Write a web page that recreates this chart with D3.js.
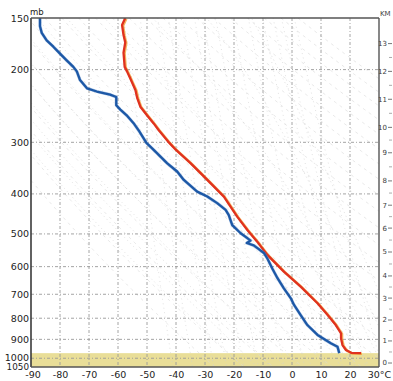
<!DOCTYPE html>
<html>
<head>
<meta charset="utf-8">
<script src="https://cdn.jsdelivr.net/npm/d3@7"></script>
<style>
  body { margin: 0; background: #fff; }
  svg { display: block; }
  text { font-family: "DejaVu Sans", sans-serif; }
</style>
</head>
<body>
<svg id="chart" width="393" height="381"></svg>
<script>
// Axis ticks
const pressureTicks = [150, 200, 300, 400, 500, 600, 700, 800, 900, 1000, 1050];
const tempTicks = [-90, -80, -70, -60, -50, -40, -30, -20, -10, 0, 10, 20, 30];
const kmTicks = [0, 1, 2, 3, 4, 5, 6, 7, 8, 9, 10, 11, 12, 13];
const kmPressure = [1027, 908, 808, 715, 632, 553, 484, 426, 372, 318, 276, 236, 202, 173];
const surfacePressure = 972;

// Temperature profile (mb, °C)
const tempP = [150, 156, 165, 172, 182, 197, 202, 210, 224, 234, 246, 258, 270, 280, 301, 313, 337, 370, 406, 454, 489, 522, 562, 617, 671, 736, 786, 831, 870, 895, 929, 955, 970, 972];
const tempC = [-57.5, -58.6, -58.1, -57.5, -58.1, -57.7, -56.9, -55.8, -54.0, -53.4, -52.3, -50.0, -47.7, -46.0, -42.3, -40.0, -35.0, -29.2, -23.5, -18.9, -15.4, -12.0, -8.5, -2.8, 3.0, 8.8, 12.3, 15.1, 16.9, 16.9, 17.4, 18.6, 20.4, 23.8];

// Dew point profile (mb, °C)
const dewP = [150, 157, 163, 170, 176, 183, 190, 197, 202, 212, 222, 226, 230, 233, 244, 250, 259, 271, 282, 301, 313, 337, 353, 370, 395, 406, 421, 437, 450, 476, 498, 512, 519, 526, 533, 542, 556, 575, 606, 640, 677, 716, 743, 786, 831, 878, 920, 938, 972];
const dewC = [-86.9, -86.9, -86.3, -84.6, -82.3, -80.0, -77.7, -75.4, -74.2, -73.1, -70.7, -67.3, -62.7, -60.6, -60.6, -59.2, -56.8, -54.4, -52.7, -50.2, -47.7, -43.1, -39.6, -37.3, -32.7, -29.2, -25.8, -22.9, -21.8, -20.6, -17.7, -15.4, -14.3, -15.6, -13.2, -11.8, -9.7, -8.4, -6.8, -5.0, -2.8, -0.4, 0.7, 3.0, 5.3, 8.8, 13.4, 15.7, 16.3];

// Background reference families
const dryThetaC = d3.range(-30, 201, 10);
const moistStartC = d3.range(-20, 41, 5);
const mixingRatios = [0.1, 0.2, 0.4, 0.6, 1, 1.5, 2, 3, 5, 8, 12, 16, 20, 28];

const svg = d3.select("#chart");
const m = { left: 31, right: 379, top: 18, bottom: 367 };

const x = d3.scaleLinear().domain([-90, 30]).range([m.left, m.right]);
const y = d3.scaleLog().domain([150, 1050]).range([m.top, m.bottom]);

const defs = svg.append("defs");
defs.append("clipPath").attr("id", "plot")
  .append("rect").attr("x", m.left).attr("y", m.top)
  .attr("width", m.right - m.left).attr("height", m.bottom - m.top);

const bg = svg.append("g").attr("clip-path", "url(#plot)");

// ground band below surface pressure
bg.append("rect")
  .attr("x", m.left).attr("width", m.right - m.left)
  .attr("y", y(surfacePressure)).attr("height", m.bottom - y(surfacePressure))
  .attr("fill", "#e9de98");

const pLevels = d3.range(150, 1051, 5);
const lineTP = d3.line().x(d => x(d[1])).y(d => y(d[0]));

// dry adiabats
dryThetaC.forEach(th => {
  const pts = pLevels.map(p => [p, (th + 273.15) * Math.pow(p / 1000, 0.2857) - 273.15]);
  bg.append("path").attr("d", lineTP(pts))
    .attr("fill", "none").attr("stroke", "#d9d9d9")
    .attr("stroke-width", 0.6).attr("stroke-dasharray", "3,4");
});

// saturated (pseudo) adiabats
function es(tc) { return 6.112 * Math.exp(17.67 * tc / (tc + 243.5)); }
function moistStep(T, p, dp) {
  const e = es(T - 273.15);
  const rs = 0.622 * e / (p - e);
  const num = 287.04 * T + 2.5e6 * rs;
  const den = 1004 + 2.5e6 * 2.5e6 * rs * 0.622 / (287.04 * T * T);
  return T + num / den * dp / p;
}
moistStartC.forEach(t0 => {
  const up = [];
  let T = t0 + 273.15, p = 1000;
  up.push([p, T - 273.15]);
  while (p > 150) { T = moistStep(T, p, -2); p -= 2; up.push([p, T - 273.15]); }
  const down = [];
  T = t0 + 273.15; p = 1000;
  while (p < 1050) { T = moistStep(T, p, 2); p += 2; down.push([p, T - 273.15]); }
  const all = down.reverse().concat(up);
  bg.append("path").attr("d", lineTP(all))
    .attr("fill", "none").attr("stroke", "#d2d2d2")
    .attr("stroke-width", 0.6).attr("stroke-dasharray", "1.2,3");
});

// saturation mixing ratio lines
mixingRatios.forEach(w => {
  const pts = pLevels.map(p => {
    const e = w * p / (622 + w);
    const l = Math.log(e / 6.112);
    return [p, 243.5 * l / (17.67 - l)];
  });
  bg.append("path").attr("d", lineTP(pts))
    .attr("fill", "none").attr("stroke", "#cfcfcf")
    .attr("stroke-width", 0.6).attr("stroke-dasharray", "1,3.5");
});

// grid
const grid = svg.append("g");
grid.selectAll("line.h").data(pressureTicks.filter(p => p > 150 && p < 1050)).join("line")
  .attr("class", "h")
  .attr("x1", m.left).attr("x2", m.right)
  .attr("y1", d => y(d)).attr("y2", d => y(d))
  .attr("stroke", "#9a9a9a").attr("stroke-width", 0.9).attr("stroke-dasharray", "3,2,1,2");
grid.selectAll("line.v").data(tempTicks.filter(t => t > -90 && t < 30)).join("line")
  .attr("class", "v")
  .attr("x1", d => x(d)).attr("x2", d => x(d))
  .attr("y1", m.top).attr("y2", m.bottom)
  .attr("stroke", "#9a9a9a").attr("stroke-width", 0.9).attr("stroke-dasharray", "3,2,1,2");

// profiles
const prof = svg.append("g").attr("clip-path", "url(#plot)");
const tempPts = tempP.map((p, i) => [p, tempC[i]]);
const dewPts = dewP.map((p, i) => [p, dewC[i]]);

prof.append("path").attr("d", lineTP(tempPts))
  .attr("transform", "translate(1,0.6)")
  .attr("fill", "none").attr("stroke", "#f2a43a").attr("stroke-width", 2.6)
  .attr("stroke-linejoin", "round").attr("opacity", 0.8);
prof.append("path").attr("d", lineTP(tempPts))
  .attr("fill", "none").attr("stroke", "#e0321f").attr("stroke-width", 2.3)
  .attr("stroke-linejoin", "round");

prof.append("path").attr("d", lineTP(dewPts))
  .attr("fill", "none").attr("stroke", "#5b8fd0").attr("stroke-width", 3.2)
  .attr("stroke-linejoin", "round").attr("opacity", 0.45);
prof.append("path").attr("d", lineTP(dewPts))
  .attr("fill", "none").attr("stroke", "#1d58a6").attr("stroke-width", 2.3)
  .attr("stroke-linejoin", "round");

// frame
const frame = svg.append("g").attr("fill", "none");
frame.append("line").attr("x1", m.left).attr("x2", m.left).attr("y1", m.top).attr("y2", m.bottom)
  .attr("stroke", "#3a3a3a").attr("stroke-width", 1.6);
frame.append("line").attr("x1", m.left).attr("x2", m.right).attr("y1", m.top).attr("y2", m.top)
  .attr("stroke", "#555").attr("stroke-width", 1.4);
frame.append("line").attr("x1", m.right).attr("x2", m.right).attr("y1", m.top).attr("y2", m.bottom)
  .attr("stroke", "#555").attr("stroke-width", 1.4);
frame.append("line").attr("x1", m.left).attr("x2", m.right).attr("y1", m.bottom).attr("y2", m.bottom)
  .attr("stroke", "#555").attr("stroke-width", 1.4);

// left pressure labels
const yAxis = d3.axisLeft(y).tickValues(pressureTicks).tickFormat(d3.format("d")).tickSize(0).tickPadding(2);
const ga = svg.append("g").attr("transform", `translate(${m.left},0)`).call(yAxis);
ga.select(".domain").remove();
ga.selectAll("text").attr("font-size", d => d === 1050 ? 8.8 : 9.5).attr("fill", "#222")
  .attr("font-family", "DejaVu Sans, sans-serif")
  .attr("dy", d => d === 1000 ? "0.2em" : d === 1050 ? "0.3em" : "0.32em");

svg.append("text").attr("x", 30).attr("y", 15).attr("font-size", 8.5)
  .attr("fill", "#222").text("mb");

// bottom temperature labels
const xAxis = d3.axisBottom(x).tickValues(tempTicks)
  .tickFormat(d => d === 30 ? "30°C" : String(d)).tickSize(0).tickPadding(4);
const gx = svg.append("g").attr("transform", `translate(0,${m.bottom})`).call(xAxis);
gx.select(".domain").remove();
gx.selectAll("text").attr("font-size", 9.5).attr("fill", "#222")
  .attr("font-family", "DejaVu Sans, sans-serif")
  .attr("dx", d => d === -90 ? 1.5 : 0);

// right height (km) scale
const gk = svg.append("g");
gk.selectAll("text").data(kmTicks).join("text")
  .attr("x", 387).attr("y", (d, i) => y(kmPressure[i]))
  .attr("dy", "0.35em").attr("text-anchor", "end")
  .attr("font-size", 7).attr("fill", "#3a3a3a")
  .attr("font-family", "Liberation Sans, Arial, sans-serif")
  .text(d => d);
gk.selectAll("line.major").data(kmTicks).join("line")
  .attr("class", "major")
  .attr("x1", 388).attr("x2", 392)
  .attr("y1", (d, i) => y(kmPressure[i])).attr("y2", (d, i) => y(kmPressure[i]))
  .attr("stroke", "#555").attr("stroke-width", 0.8);
const halfY = kmPressure.slice(0, -1).map((p, i) => (y(p) + y(kmPressure[i + 1])) / 2);
gk.selectAll("line.minor").data(halfY).join("line")
  .attr("class", "minor")
  .attr("x1", 389).attr("x2", 392)
  .attr("y1", d => d).attr("y2", d => d)
  .attr("stroke", "#888").attr("stroke-width", 0.7);
svg.append("text").attr("x", 380).attr("y", 16).attr("font-size", 7)
  .attr("fill", "#444").attr("font-family", "Liberation Sans, Arial, sans-serif").text("KM");
</script>
</body>
</html>
